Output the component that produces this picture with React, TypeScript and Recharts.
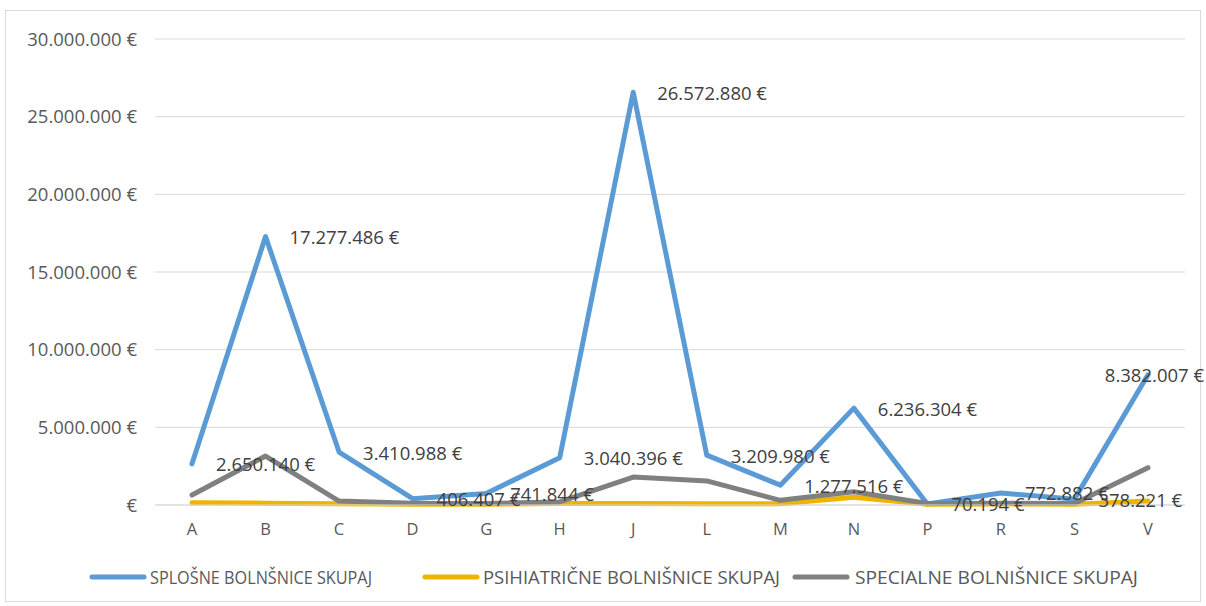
import React from 'react';
import {
    LineChart,
    Line,
    XAxis,
    YAxis,
    CartesianGrid,
    Legend,
    LabelList
} from 'recharts';

const categories = ['A', 'B', 'C', 'D', 'G', 'H', 'J', 'L', 'M', 'N', 'P', 'R', 'S', 'V'];

// SPLOŠNE BOLNŠNICE SKUPAJ (labelled values)
const splosne = [2650140, 17277486, 3410988, 406407, 741844, 3040396, 26572880, 3209980, 1277516, 6236304, 70194, 772882, 378221, 8382007];
// PSIHIATRIČNE BOLNIŠNICE SKUPAJ
const psihiatricne = [150000, 120000, 80000, 50000, 50000, 100000, 100000, 80000, 80000, 500000, 50000, 60000, 50000, 250000];
// SPECIALNE BOLNIŠNICE SKUPAJ
const specialne = [640000, 3150000, 250000, 120000, 100000, 200000, 1800000, 1550000, 300000, 850000, 100000, 120000, 100000, 2400000];

const yTicks = [0, 5000000, 10000000, 15000000, 20000000, 25000000, 30000000];

const seriesNames = ['SPLOŠNE BOLNŠNICE SKUPAJ', 'PSIHIATRIČNE BOLNIŠNICE SKUPAJ', 'SPECIALNE BOLNIŠNICE SKUPAJ'];

const COLORS = {
    splosne: '#5B9BD5',
    psihiatricne: '#F0B400',
    specialne: '#808080',
};

const FONT = '"Open Sans", "Liberation Sans", sans-serif';

const chartData = categories.map((cat, i) => ({
    cat,
    splosne: splosne[i],
    psihiatricne: psihiatricne[i],
    specialne: specialne[i],
}));

const formatEur = (value: number) => {
    if (value === 0) return '€';
    const s = String(Math.round(value)).replace(/\B(?=(\d{3})+(?!\d))/g, '.');
    return `${s} €`;
};

const renderPointLabel = (props: any) => {
    const { x, y, value } = props;
    const text = formatEur(value);
    const estWidth = text.length * 9.4;
    let lx = x + 24;
    let anchor: 'start' | 'end' = 'start';
    if (lx + estWidth > 1204) {
        lx = 1204;
        anchor = 'end';
    }
    return (
        <text
            x={lx}
            y={y}
            fill="#404040"
            fontSize={18.5}
            fontFamily={FONT}
            textAnchor={anchor}
            dominantBaseline="central"
        >
            {text}
        </text>
    );
};

const legendItems = [
    { name: seriesNames[0], color: COLORS.splosne, x: 92, textX: 150, textW: 222 },
    { name: seriesNames[1], color: COLORS.psihiatricne, x: 425, textX: 483, textW: 297 },
    { name: seriesNames[2], color: COLORS.specialne, x: 795, textX: 855, textW: 283 },
];

const renderLegend = () => (
    <svg width={1206} height={30} style={{ display: 'block' }}>
        {legendItems.map((item) => (
            <g key={item.name}>
                <line x1={item.x} y1={15} x2={item.x + 52} y2={15} stroke={item.color} strokeWidth={5} strokeLinecap="round" />
                <text
                    x={item.textX}
                    y={15}
                    fill="#595959"
                    fontSize={17.5}
                    fontFamily={FONT}
                    dominantBaseline="central"
                    textLength={item.textW}
                    lengthAdjust="spacingAndGlyphs"
                >
                    {item.name}
                </text>
            </g>
        ))}
    </svg>
);

export default function App() {
    return (
        <div style={{ position: 'absolute', left: 0, top: 0, width: 1206, height: 606, background: '#fff', fontFamily: FONT }}>
            <div style={{ position: 'absolute', left: 5, top: 10, width: 1194, height: 590, border: '1px solid #d9d9d9' }} />
            <LineChart
                width={1206}
                height={606}
                data={chartData}
                margin={{ top: 39, right: 21, left: 0, bottom: 41 }}
            >
                <CartesianGrid vertical={false} stroke="#d9d9d9" />
                <XAxis
                    dataKey="cat"
                    height={30}
                    axisLine={{ stroke: '#d9d9d9' }}
                    tickLine={false}
                    tickSize={0}
                    tickMargin={18}
                    padding={{ left: 37, right: 37 }}
                    tick={{ fill: '#595959', fontSize: 16.5, fontFamily: FONT }}
                    interval={0}
                />
                <YAxis
                    width={155}
                    domain={[0, 30000000]}
                    ticks={yTicks}
                    axisLine={false}
                    tickLine={false}
                    tickSize={0}
                    tickMargin={18}
                    tickFormatter={formatEur}
                    tick={{ fill: '#595959', fontSize: 18.5, fontFamily: FONT }}
                />
                <Legend content={renderLegend} wrapperStyle={{ left: 0, top: 562, width: 1206, height: 30 }} />
                <Line
                    dataKey="splosne"
                    name={seriesNames[0]}
                    stroke={COLORS.splosne}
                    strokeWidth={5}
                    strokeLinecap="round"
                    strokeLinejoin="round"
                    dot={false}
                    isAnimationActive={false}
                />
                <Line
                    dataKey="psihiatricne"
                    name={seriesNames[1]}
                    stroke={COLORS.psihiatricne}
                    strokeWidth={5}
                    strokeLinecap="round"
                    strokeLinejoin="round"
                    dot={false}
                    isAnimationActive={false}
                />
                <Line
                    dataKey="specialne"
                    name={seriesNames[2]}
                    stroke={COLORS.specialne}
                    strokeWidth={5}
                    strokeLinecap="round"
                    strokeLinejoin="round"
                    dot={false}
                    isAnimationActive={false}
                />
                {/* labels for the blue series, drawn last so they sit on top of every line */}
                <Line
                    dataKey="splosne"
                    stroke="none"
                    dot={false}
                    activeDot={false}
                    legendType="none"
                    isAnimationActive={false}
                >
                    <LabelList dataKey="splosne" content={renderPointLabel} />
                </Line>
            </LineChart>
        </div>
    );
}
